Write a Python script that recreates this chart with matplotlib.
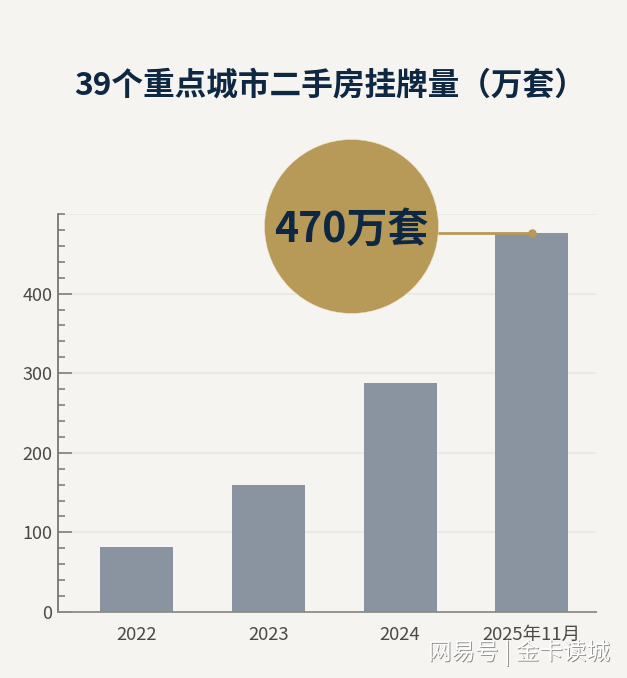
import matplotlib
matplotlib.use('Agg')
import matplotlib.pyplot as plt
import matplotlib.patheffects as pe
from matplotlib.ticker import MultipleLocator

plt.rcParams['font.family'] = ['Noto Sans CJK SC', 'DejaVu Sans']

# data
years = ['2022', '2023', '2024', '2025年11月']
values = [82, 160, 288, 476]
yticks = [0, 100, 200, 300, 400]

W, H = 627, 678
bg = '#f5f4f0'
navy = '#0e2742'
gold = '#b89a58'

fig = plt.figure(figsize=(W / 100, H / 100), dpi=100, facecolor=bg)
# axes box in pixels: left 58, right 596, top 214, bottom 612
ax = fig.add_axes([58 / W, 1 - 612 / H, (596 - 58) / W, (612 - 214) / H], facecolor=bg)

x = list(range(len(years)))
ax.bar(x, values, width=0.555, color='#8a94a1', zorder=2)
ax.set_xlim(-0.6, 3.49)
ax.set_ylim(0, 500)

ax.set_xticks(x)
ax.set_xticklabels(years, fontsize=13.3, color='#4a4a4a')
ax.set_yticks(yticks)
ax.set_yticklabels([str(v) for v in yticks], fontsize=13, color='#4a4a4a')
ax.yaxis.set_minor_locator(MultipleLocator(20))
ax.tick_params(axis='x', length=0, pad=10)
ax.tick_params(axis='y', which='major', direction='in', length=10, width=1.1, color='#777772', pad=4)
ax.tick_params(axis='y', which='minor', direction='in', length=5, width=1.1, color='#777772')

# gridlines, the top one too
for v in yticks[1:] + [500]:
    ax.axhline(v, color='#e6e6e2', lw=1.1, zorder=1)

for s in ['top', 'right']:
    ax.spines[s].set_visible(False)
ax.spines['left'].set_color('#777772')
ax.spines['left'].set_linewidth(1.3)
ax.spines['bottom'].set_color('#8c8c84')
ax.spines['bottom'].set_linewidth(1.3)

# callout for the last bar
ax.plot([1.9, 3], [values[3], values[3]], color=gold, lw=2, zorder=3, clip_on=False)
ax.scatter([3], [values[3]], s=26, color=gold, zorder=4, clip_on=False)
ax.scatter([1.627], [485], s=15700, color=gold, edgecolor='#f0e4c6', linewidth=0.4,
           zorder=5, clip_on=False)
ax.text(1.627, 480, '470万套', fontsize=29.5, fontweight='bold', color=navy,
        ha='center', va='center', zorder=6)

fig.text(330 / W, 1 - 85 / H, '39个重点城市二手房挂牌量（万套）', fontsize=22.8,
         fontweight='bold', color=navy, ha='center', va='center')

# watermark
fig.text(519 / W, 1 - 653 / H, '网易号 | 金卡读城', fontsize=17, color='white',
         ha='center', va='center', zorder=10,
         path_effects=[pe.withSimplePatchShadow(offset=(0.6, -0.6), shadow_rgbFace='#555555', alpha=0.7)])

fig.savefig('out.png', dpi=100, facecolor=bg)
